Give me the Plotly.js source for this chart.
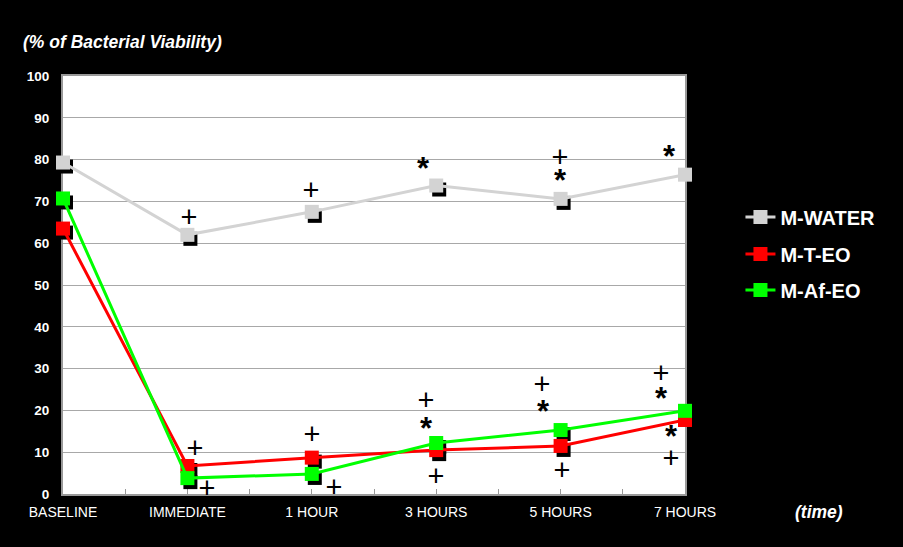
<!DOCTYPE html>
<html>
<head>
<meta charset="utf-8">
<script src="https://cdn.plot.ly/plotly-3.0.1.min.js"></script>
<style>html,body{margin:0;padding:0;background:#000;}#chart{width:903px;height:547px;}</style>
</head>
<body>
<div id="chart"></div>
<script>
// Categories (time points)
const categories = ["BASELINE", "IMMEDIATE", "1 HOUR", "3 HOURS", "5 HOURS", "7 HOURS"];
const catIndex = [0, 1, 2, 3, 4, 5];

// % of bacterial viability per series
const mWater = [79.3, 62.0, 67.5, 73.8, 70.6, 76.4];
const mTEO   = [63.5, 6.7, 8.7, 10.5, 11.5, 17.7];
const mAfEO  = [70.7, 3.8, 4.8, 12.2, 15.3, 19.9];

// Significance marks (+ and *) positions
const plusX = [1.013, 1.061, 1.158, 1.994, 2.002, 2.178, 2.918, 2.998, 3.995, 3.85, 4.011, 4.807, 4.887];
const plusY = [65.6, 10.3, 0.7, 72.0, 13.6, 1.0, 21.8, 3.6, 79.9, 25.6, 5.0, 28.2, 7.9];
const starX = [2.894, 3.995, 4.871, 2.918, 3.859, 4.807, 4.887];
const starY = [77.2, 74.3, 80.1, 15.0, 19.1, 22.2, 13.1];

const FONT = '"Liberation Sans", Arial, sans-serif';
const series = [
  {name: "M-WATER", y: mWater, color: "#d3d3d3", legend: "legend"},
  {name: "M-T-EO",  y: mTEO,   color: "#ff0000", legend: "legend2"},
  {name: "M-Af-EO", y: mAfEO,  color: "#00ff00", legend: "legend3"}
];

const traces = [];
// invisible anchor trace on the base axes so grid/ticks are drawn
traces.push({x: [0], y: [50], xaxis: "x", yaxis: "y", type: "scatter", mode: "markers",
  marker: {size: 1, opacity: 0}, showlegend: false, hoverinfo: "skip"});
// drop shadows (on shifted overlay axes)
series.forEach(s => {
  traces.push({
    x: catIndex, y: s.y, xaxis: "x2", yaxis: "y2", type: "scatter", mode: "markers",
    marker: {symbol: "square", size: 14, color: "#000"}, showlegend: false,
    hoverinfo: "skip", cliponaxis: false
  });
});
// main series
series.forEach(s => {
  traces.push({
    x: catIndex, y: s.y, xaxis: "x3", yaxis: "y3", type: "scatter", mode: "lines+markers",
    name: s.name, legend: s.legend,
    line: {color: s.color, width: 3},
    marker: {symbol: "square", size: 14, color: s.color},
    cliponaxis: false
  });
});
traces.push({
  x: plusX, y: plusY, xaxis: "x3", yaxis: "y3", type: "scatter", mode: "text",
  text: plusX.map(() => "+"), textposition: "middle center",
  textfont: {family: FONT, size: 29, color: "#000"}, showlegend: false, cliponaxis: false, hoverinfo: "skip"
});
traces.push({
  x: starX, y: starY, xaxis: "x3", yaxis: "y3", type: "scatter", mode: "text",
  text: starX.map(() => "*"), textposition: "middle center",
  textfont: {family: FONT, size: 31, color: "#000", weight: "bold"}, showlegend: false, cliponaxis: false, hoverinfo: "skip"
});

const plotW = 903 - 63 - 218, plotH = 547 - 76 - 53;
const dx = 3 * 5 / plotW, dy = 4 * 100 / plotH;

const legendBase = {
  xref: "container", yref: "container", x: 0.82, xanchor: "left", yanchor: "middle",
  bgcolor: "rgba(0,0,0,0)", font: {family: FONT, size: 20, color: "#fff", weight: "bold"}
};

const layout = {
  width: 903, height: 547,
  paper_bgcolor: "#000", plot_bgcolor: "#fff",
  margin: {l: 63, r: 218, t: 76, b: 53},
  font: {family: FONT, color: "#fff"},
  xaxis: {
    range: [0, 5], tickmode: "array", tickvals: [0, 0.5, 1, 1.5, 2, 2.5, 3, 3.5, 4, 4.5, 5],
    ticktext: ["BASELINE", "", "IMMEDIATE", "", "1 HOUR", "", "3 HOURS", "", "5 HOURS", "", "7 HOURS"],
    ticks: "inside", ticklen: 5, tickcolor: "#999", tickwidth: 1,
    showgrid: false, zeroline: false,
    showline: true, linecolor: "#999", linewidth: 2, mirror: true,
    tickfont: {family: FONT, size: 14, color: "#fff"}, ticklabelstandoff: 4,
    layer: "below traces", fixedrange: true
  },
  yaxis: {
    range: [0, 100], dtick: 10, tick0: 0, ticks: "",
    showgrid: true, gridcolor: "#a8a8a8", gridwidth: 1, zeroline: false,
    showline: true, linecolor: "#999", linewidth: 2, mirror: true,
    tickfont: {family: FONT, size: 13.5, color: "#fff", weight: "bold"}, ticklabelstandoff: 9,
    layer: "below traces", fixedrange: true
  },
  xaxis2: {overlaying: "x", range: [-dx, 5 - dx], visible: false, fixedrange: true},
  yaxis2: {overlaying: "y", range: [dy, 100 + dy], visible: false, fixedrange: true},
  xaxis3: {overlaying: "x", range: [0, 5], visible: false, fixedrange: true},
  yaxis3: {overlaying: "y", range: [0, 100], visible: false, fixedrange: true},
  legend: Object.assign({}, legendBase, {y: 1 - 217 / 547}),
  legend2: Object.assign({}, legendBase, {y: 1 - 254 / 547}),
  legend3: Object.assign({}, legendBase, {y: 1 - 290 / 547}),
  annotations: [
    {text: "(% of Bacterial Viability)", xref: "paper", yref: "paper", x: -0.0675, y: 1.081,
     xanchor: "left", yanchor: "middle", showarrow: false,
     font: {family: FONT, size: 17.5, color: "#fff", weight: "bold", style: "italic"}},
    {text: "(time)", xref: "paper", yref: "paper", x: 1.1736, y: -0.043,
     xanchor: "left", yanchor: "middle", showarrow: false,
     font: {family: FONT, size: 17.5, color: "#fff", weight: "bold", style: "italic"}}
  ],
  showlegend: true
};

Plotly.newPlot("chart", traces, layout, {staticPlot: true});
</script>
</body>
</html>
